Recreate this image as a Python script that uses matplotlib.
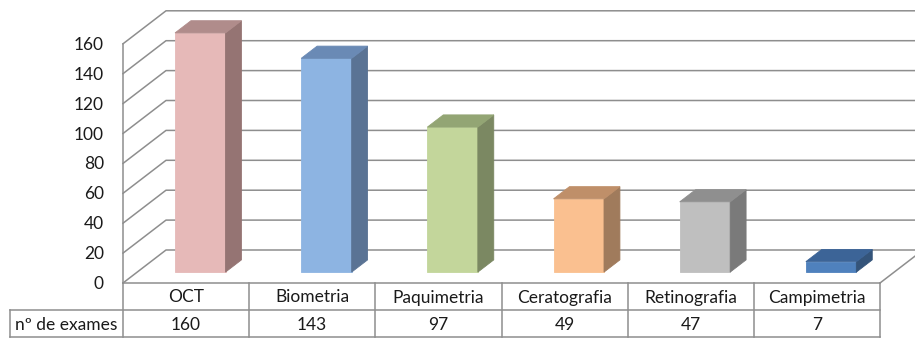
import matplotlib
matplotlib.use('Agg')
import matplotlib.pyplot as plt
from matplotlib.patches import Polygon

categories = ['OCT', 'Biometria', 'Paquimetria', 'Ceratografia', 'Retinografia', 'Campimetria']
exames = [160, 143, 97, 49, 47, 7]
row_label = 'nº de exames'
ticks = [0, 20, 40, 60, 80, 100, 120, 140, 160]

# front / side / top shades for each column
front_colors = ['#E6B9B8', '#8DB4E2', '#C3D69B', '#FAC090', '#BFBFBF', '#4F81BD']
side_colors = ['#957473', '#5A7394', '#7B8862', '#A07B5C', '#7A7A7A', '#34547A']
top_colors = ['#B08C8B', '#6A8AB5', '#93A574', '#BF8F69', '#8F8F8F', '#3C6497']

plt.rcParams['font.family'] = ['Lato', 'DejaVu Sans']

W_PX, H_PX = 915, 338
X0, X1 = 123, 880          # front edge of the floor
Y0 = 283                   # value 0 on the front edge
S = 1.495                  # pixels per unit
DX, DY = 43, -33           # full depth offset
D0, D1 = 0.33, 0.70        # bar depth range
BAR_W = 0.4
GRID = '#8E8E8E'
TXT = '#1A1A1A'
FS = 12.5

ncat = len(categories)
cw = (X1 - X0) / ncat


def proj(x, v, d):
    return (x + d * DX, Y0 - v * S + d * DY)


fig = plt.figure(figsize=(W_PX / 100, H_PX / 100), dpi=100)
ax = fig.add_axes([0, 0, 1, 1])
ax.set_xlim(0, W_PX)
ax.set_ylim(H_PX, 0)
ax.axis('off')

vmax = ticks[-1]

# walls: left wall diagonals + back wall horizontals
for v in ticks:
    a = proj(X0, v, 0)
    b = proj(X0, v, 1)
    c = proj(X1 + 60, v, 1)
    ax.plot([a[0], b[0], c[0]], [a[1], b[1], c[1]], color=GRID, lw=1.1, zorder=1)
    ax.text(X0 - 19, a[1] + 1, str(v), ha='right', va='center', fontsize=FS, color=TXT)

# left wall front edge
a = proj(X0, 0, 0)
b = proj(X0, vmax, 0)
ax.plot([a[0], b[0]], [a[1], b[1]], color=GRID, lw=1.1, zorder=1)

# floor right edge
a = proj(X1, 0, 0)
b = proj(X1, 0, 1)
ax.plot([a[0], b[0]], [a[1], b[1]], color=GRID, lw=1.1, zorder=1)

# bars
for i, val in enumerate(exames):
    xl = X0 + (i + 0.5 - BAR_W / 2) * cw
    xr = X0 + (i + 0.5 + BAR_W / 2) * cw
    front = [proj(xl, 0, D0), proj(xr, 0, D0), proj(xr, val, D0), proj(xl, val, D0)]
    side = [proj(xr, 0, D0), proj(xr, 0, D1), proj(xr, val, D1), proj(xr, val, D0)]
    top = [proj(xl, val, D0), proj(xr, val, D0), proj(xr, val, D1), proj(xl, val, D1)]
    for pts, col in ((front, front_colors[i]), (side, side_colors[i]), (top, top_colors[i])):
        ax.add_patch(Polygon(pts, closed=True, facecolor=col, edgecolor=col,
                             lw=0.6, zorder=3))

# data table
row1 = Y0 + 27
row2 = H_PX - 1
hx = 10
ax.plot([X0, X1], [Y0, Y0], color=GRID, lw=1.1, zorder=4)
ax.plot([hx, X1], [row1, row1], color=GRID, lw=1.1, zorder=4)
ax.plot([hx, X1], [row2, row2], color=GRID, lw=1.1, zorder=4)
ax.plot([hx, hx], [row1, row2], color=GRID, lw=1.1, zorder=4)
for k in range(ncat + 1):
    x = X0 + k * cw
    ax.plot([x, x], [Y0, row2], color=GRID, lw=1.1, zorder=4)

for i, (cat, val) in enumerate(zip(categories, exames)):
    xc = X0 + (i + 0.5) * cw
    ax.text(xc, (Y0 + row1) / 2 + 1, cat, ha='center', va='center', fontsize=FS, color=TXT)
    ax.text(xc, (row1 + row2) / 2 + 1, str(val), ha='center', va='center', fontsize=FS, color=TXT)
ax.text((hx + X0) / 2, (row1 + row2) / 2 + 1, row_label, ha='center', va='center',
        fontsize=FS, color=TXT)

fig.savefig('out.png', dpi=100)
